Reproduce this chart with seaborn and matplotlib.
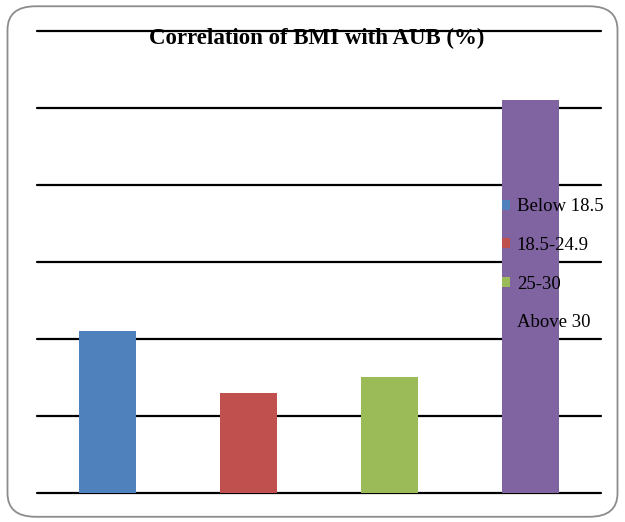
import matplotlib
matplotlib.use("Agg")
import matplotlib.pyplot as plt
from matplotlib.patches import FancyBboxPatch
import seaborn as sns
import pandas as pd

# BMI groups and share of AUB cases (%)
categories = ["Below 18.5", "18.5-24.9", "25-30", "Above 30"]
values = [21, 13, 15, 51]
colors = ["#4F81BD", "#C0504D", "#9BBB59", "#8064A2"]
title = "Correlation of BMI with AUB (%)"

sns.set_theme(style="white")
plt.rcParams["font.family"] = ["Liberation Serif", "DejaVu Serif"]

df = pd.DataFrame({"group": categories, "pct": values})

fig = plt.figure(figsize=(6.25, 5.22), dpi=100)
fig.patch.set_facecolor("white")

# rounded chart frame
frame = FancyBboxPatch((0.012, 0.010), 0.976, 0.978,
                       boxstyle="round,pad=0,rounding_size=0.045",
                       transform=fig.transFigure, facecolor="none",
                       edgecolor="#8c8c8c", linewidth=1.3, zorder=-1)
fig.patches.append(frame)

ax = fig.add_axes([0.0592, 0.0556, 0.9024, 0.885])
ax.set_facecolor("none")

sns.barplot(data=df, x="group", y="pct", hue="group", palette=colors,
            width=0.4, dodge=False, saturation=1, ax=ax, legend=True,
            linewidth=0, edgecolor="none", zorder=3)

ax.set_ylim(0, 60)
ax.set_xlim(-0.5, 3.5)
ax.set_yticks(range(0, 61, 10))
ax.yaxis.grid(True, color="black", linewidth=1.6, zorder=1)
ax.set_axisbelow(True)
for gl in ax.get_ygridlines():
    gl.set_clip_on(False)
ax.set_xticks([])
ax.tick_params(left=False, labelleft=False)
ax.set_xlabel("")
ax.set_ylabel("")
for s in ax.spines.values():
    s.set_visible(False)

handles, labels = ax.get_legend_handles_labels()
for h in handles:
    h.set_linewidth(0)
    h.set_edgecolor("none")
leg = ax.legend(handles, labels, loc="center left",
                bbox_to_anchor=(0.824, 0.494),
                frameon=False, fontsize=13.5, handlelength=0.45,
                handleheight=0.45, handletextpad=0.35, labelspacing=1.15,
                borderaxespad=0, borderpad=0, labelcolor="black")

fig.text(0.506, 1 - 38 / 522, title, ha="center", va="center",
         fontsize=16.5, fontweight="bold", color="black")

fig.savefig("out.png", dpi=100)
